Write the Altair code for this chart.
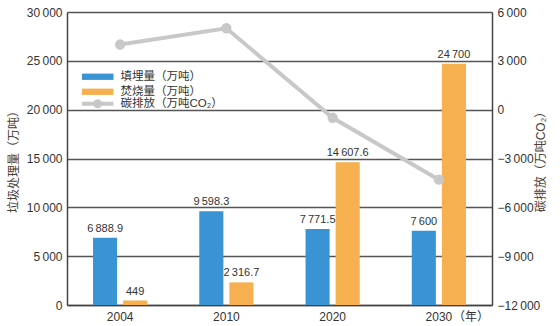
import altair as alt
import pandas as pd

years = ["2004", "2010", "2020", "2030"]
landfill = [6888.9, 9598.3, 7771.5, 7600]
incineration = [449, 2316.7, 14607.6, 24700]
carbon = [4000, 5000, -500, -4300]

s_landfill = "填埋量（万吨）"
s_incin = "焚烧量（万吨）"
s_carbon = "碳排放（万吨CO₂）"

FONT = "Liberation Sans, Arial, Noto Sans CJK SC"
TXT = "#333333"
BLUE = "#3a93d3"
ORANGE = "#f6b04f"
GRAY = "#c8c8c8"

bars = pd.DataFrame({
    "year": years * 2,
    "series": [s_landfill] * 4 + [s_incin] * 4,
    "value": landfill + incineration,
})
line = pd.DataFrame({"year": years, "carbon": carbon, "series": [s_carbon] * 4})

x = alt.X("year:N", sort=years, title=None,
          scale=alt.Scale(paddingInner=0.49, paddingOuter=0.245),
          axis=alt.Axis(labelAngle=0, labelFont=FONT, labelFontSize=12, labelColor=TXT,
                        ticks=False, domainColor="#444444", domainWidth=1.5, labelPadding=6))

fmt = "replace(format(datum.value, ','), ',', '\u2009')"

bar_base = alt.Chart(bars).encode(
    x=x,
    xOffset=alt.XOffset("series:N", sort=[s_landfill, s_incin],
                        scale=alt.Scale(paddingInner=0.2, paddingOuter=0)),
)

bar_layer = bar_base.mark_bar().encode(
    y=alt.Y("value:Q", scale=alt.Scale(domain=[0, 30000]),
            title="垃圾处理量（万吨）",
            axis=alt.Axis(values=[0, 5000, 10000, 15000, 20000, 25000, 30000],
                          labelExpr=fmt, labelFont=FONT, labelFontSize=12, labelColor=TXT,
                          ticks=False, domain=True, domainColor="#444444", domainWidth=1.5,
                          grid=True, gridColor="#555555", gridWidth=1.5,
                          titleFont=FONT, titleFontSize=12, titleFontWeight="normal",
                          titleColor="#4a4036", titlePadding=6, labelPadding=5)),
    color=alt.Color("series:N", sort=[s_landfill, s_incin],
                    scale=alt.Scale(domain=[s_landfill, s_incin], range=[BLUE, ORANGE]),
                    legend=alt.Legend(title=None, orient="none", legendX=25, legendY=59,
                                      symbolType="M-4.5,-0.9H4.5V0.9H-4.5Z", symbolSize=49,
                                      symbolStrokeWidth=0, labelOffset=17,
                                      labelFont=FONT, labelFontSize=11.5, labelColor=TXT,
                                      rowPadding=2, symbolOpacity=1)),
)

bar_text = bar_base.mark_text(baseline="bottom", dy=-4, font=FONT, fontSize=11, color=TXT).transform_calculate(
    label="replace(datum.value % 1 == 0 ? format(datum.value, ',') : format(datum.value, ',.1f'), ',', '\u2009')"
).encode(
    y=alt.Y("value:Q"),
    text="label:N",
)

left = alt.layer(bar_layer, bar_text)

line_layer = alt.Chart(line).mark_line(
    strokeWidth=4, point=alt.OverlayMarkDef(filled=True, size=70, color=GRAY)
).encode(
    x=alt.X("year:N", sort=years),
    y=alt.Y("carbon:Q", scale=alt.Scale(domain=[-12000, 6000]),
            title="碳排放（万吨CO₂）",
            axis=alt.Axis(orient="right", values=[-12000, -9000, -6000, -3000, 0, 3000, 6000],
                          labelExpr=fmt, labelFont=FONT, labelFontSize=12, labelColor=TXT,
                          ticks=False, domain=True, domainColor="#444444", domainWidth=1.5,
                          grid=False, titleFont=FONT, titleFontSize=12, titleFontWeight="normal",
                          titleColor="#4a4036", titleAngle=270, titlePadding=8, labelPadding=5)),
    stroke=alt.Stroke("series:N",
                      scale=alt.Scale(domain=[s_carbon], range=[GRAY]),
                      legend=alt.Legend(title=None, orient="none", legendX=25, legendY=86,
                                        symbolType="M-4.5,0H4.5M0.7,0A0.7,0.7,0,1,1,-0.7,0A0.7,0.7,0,1,1,0.7,0",
                                        symbolSize=49, symbolStrokeWidth=4, symbolFillColor=GRAY,
                                        labelOffset=17, labelFont=FONT, labelFontSize=11.5,
                                        labelColor=TXT)),
)

year_suffix = alt.Chart(pd.DataFrame({"year": ["2030"], "t": ["（年）"]})).mark_text(
    font=FONT, fontSize=12, color=TXT, align="left", baseline="top", dx=14
).encode(
    x=alt.X("year:N", sort=years),
    y=alt.value(305 - 12 + 7),
    text="t:N",
)

chart = alt.layer(left, line_layer, year_suffix).resolve_scale(y="independent").properties(
    width=425, height=293,
    autosize=alt.AutoSizeParams(type="none"),
    padding={"left": 67, "top": 12, "right": 68, "bottom": 21},
).configure_view(stroke=None).configure(background="white")

chart.save("out.html", embed_options={"renderer": "svg", "actions": False})
